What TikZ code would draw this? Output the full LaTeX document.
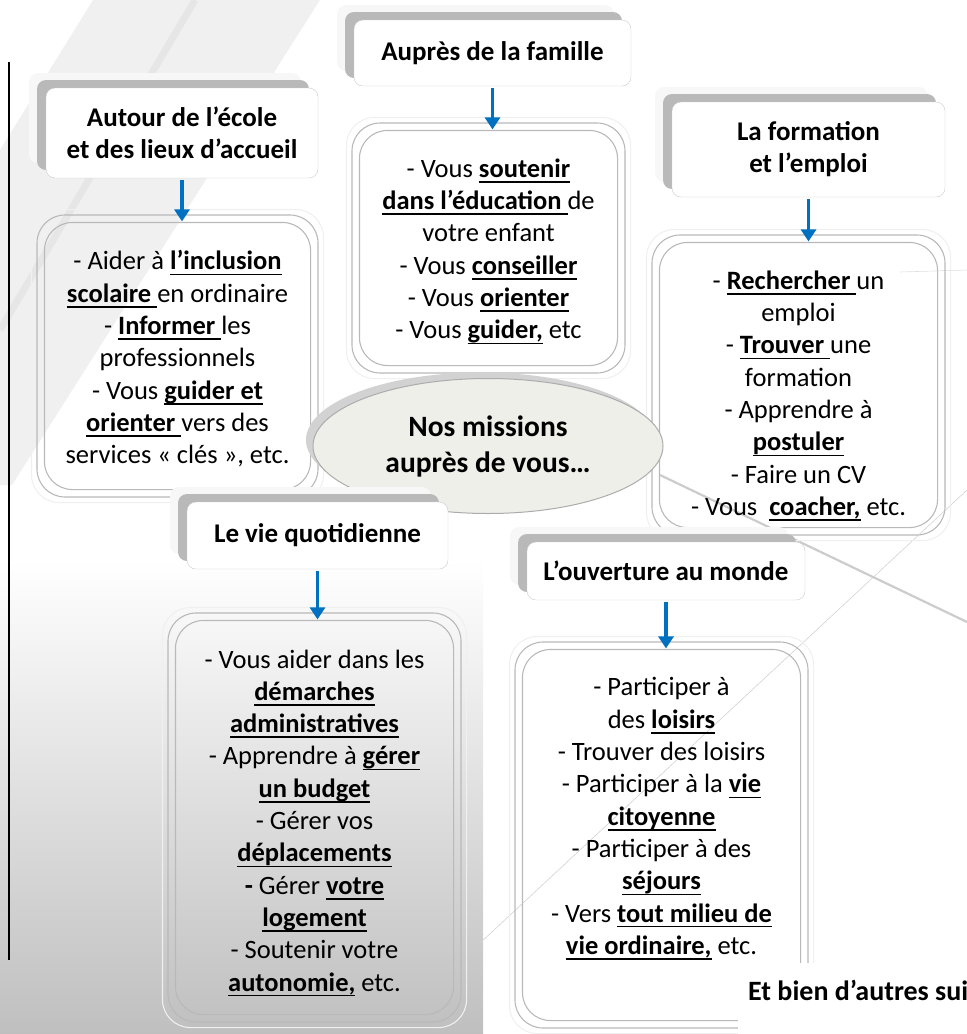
\documentclass[tikz,border=0pt]{standalone}
\usepackage{fontspec}
\setmainfont{Carlito}
\usetikzlibrary{shapes.geometric,positioning,shadows,arrows.meta}
\definecolor{arrowblue}{HTML}{0070C0}
\definecolor{ellfill}{HTML}{EEEFE9}
\newsavebox{\ubbox}
\newcommand{\ub}[1]{\sbox{\ubbox}{\textbf{#1}}\rlap{\vrule height -3.8pt depth 5.4pt width \wd\ubbox}\usebox{\ubbox}}
\tikzset{head/.style={draw=gray!40,fill=white,rounded corners=9pt,align=center,
    font=\fontsize{27}{32}\selectfont\bfseries,
    drop shadow={shadow xshift=-17pt,shadow yshift=15pt,fill=gray!6,opacity=1},
    drop shadow={shadow xshift=-9pt,shadow yshift=8pt,fill=gray!55,opacity=1}},
  body/.style={draw=gray!55,line width=1.1pt,rounded corners=28pt},
  txt/.style={align=center,inner sep=0pt,font=\fontsize{26.5}{32.3}\selectfont},
  link/.style={draw=arrowblue,line width=3.2pt,-{Triangle[width=15pt,length=12pt]},
    shorten <=2pt,shorten >=-7pt}}

\begin{document}
\begin{tikzpicture}[x=1pt,y=-1pt]
  \clip (0,0) rectangle (967,1034);
  % background
  \fill[gray!12] (93,0) -- (320,0) -- (12,485) -- (0,485) -- (0,150) -- cycle;
  \draw[gray!22,line width=7pt,opacity=.7] (195,0) -- (0,330);
  \shade[top color=white,bottom color=gray!50] (0,560) rectangle (483,1034);
  \draw[gray!35,line width=.6pt] (967,490) -- (480,943);
  \draw[gray!40,line width=2.2pt] (660,475) -- (967,622);
  \draw[gray!25,line width=.6pt] (900,272) -- (967,270);
  \draw[line width=1.6pt] (9,62) -- (9,960);

  % bodies
  \node[body,minimum width=281pt,minimum height=282pt] (b1) at (177.5,356) {};
  \node[body,minimum width=273pt,minimum height=250pt] (b2) at (488.5,248) {};
  \node[body,minimum width=293pt,minimum height=300pt] (b3) at (798.5,385) {};
  \node[body,minimum width=293pt,minimum height=409pt] (b4) at (314.5,817.5) {};
  \node[body,minimum width=293pt,minimum height=386pt] (b5) at (661.5,835) {};
  \foreach \b in {b1,b2,b3,b4,b5}{
    \draw[body] ([shift={(8,8)}]\b.north west) rectangle ([shift={(-8,-8)}]\b.south east);
    \draw[body,draw=gray!12] ([shift={(-5,-5)}]\b.north west) rectangle ([shift={(5,5)}]\b.south east);
  }

  \node[txt,below=36pt of b1.north] (t1) {- Aider à \ub{l’inclusion}\\
    \ub{scolaire }en ordinaire\\
    - \ub{Informer }les\\
    professionnels\\
    - Vous \ub{guider et}\\
    \ub{orienter }vers des\\
    services «~clés~», etc.};
  \node[txt,below=36pt of b2.north] (t2) {- Vous \ub{soutenir}\\
    \ub{dans l’éducation }de\\
    votre enfant\\
    - Vous \ub{conseiller}\\
    - Vous \ub{orienter}\\
    - Vous \ub{guider,} etc};
  \node[txt,below=36pt of b3.north] (t3) {- \ub{Rechercher }un\\
    emploi\\
    - \ub{Trouver }une\\
    formation\\
    - Apprendre à\\
    \ub{postuler}\\
    - Faire un CV\\
    - Vous~ \ub{coacher,} etc.};
  \node[txt,below=37pt of b4.north] (t4) {- Vous aider dans les\\
    \ub{démarches}\\
    \ub{administratives}\\
    - Apprendre à \ub{gérer}\\
    \ub{un budget}\\
    - Gérer vos\\
    \ub{déplacements}\\
    \textbf{-} Gérer \ub{votre}\\
    \ub{logement}\\
    - Soutenir votre\\
    \ub{autonomie,} etc.};
  \node[txt,below=36pt of b5.north] (t5) {- Participer à\\
    des \ub{loisirs}\\
    - Trouver des loisirs\\
    - Participer à la \ub{vie}\\
    \ub{citoyenne}\\
    - Participer à des\\
    \ub{séjours}\\
    - Vers \ub{tout milieu de}\\
    \ub{vie ordinaire,} etc.};

  % centre
  \node[ellipse,draw=gray!65,line width=1pt,fill=ellfill,minimum width=350pt,minimum height=135pt,
    align=center,font=\fontsize{29.5}{36}\selectfont\bfseries,
    drop shadow={shadow xshift=-7pt,shadow yshift=6pt,fill=gray!35,opacity=1}] (c) at (488,446)
    {Nos missions\\auprès de vous…};

  % headers
  \node[head,minimum width=272pt,minimum height=90pt] (h1) at (182,133) {Autour de l’école\\et des lieux d’accueil};
  \node[head,minimum width=277pt,minimum height=66pt] (h2) at (492.5,53) {Auprès de la famille};
  \node[head,minimum width=273pt,minimum height=95pt] (h3) at (808.5,149.5) {La formation\\et l’emploi};
  \node[head,minimum width=261pt,minimum height=67pt] (h4) at (317.5,535.5) {Le vie quotidienne};
  \node[head,minimum width=278pt,minimum height=58pt] (h5) at (666,571) {L’ouverture au monde};

  \draw[link] (h1.south) -- (h1.south |- b1.north);
  \draw[link] (h2.south) -- (h2.south |- b2.north);
  \draw[link] (h3.south) -- (h3.south |- b3.north);
  \draw[link] (h4.south) -- (h4.south |- b4.north);
  \draw[link] (h5.south) -- (h5.south |- b5.north);

  \fill[white] (738,963) rectangle (967,1034);
  \node[anchor=west,inner sep=0pt,font=\fontsize{28}{30}\selectfont\bfseries] (more) at (748,990) {Et bien d’autres suivent…};
\end{tikzpicture}
\end{document}
